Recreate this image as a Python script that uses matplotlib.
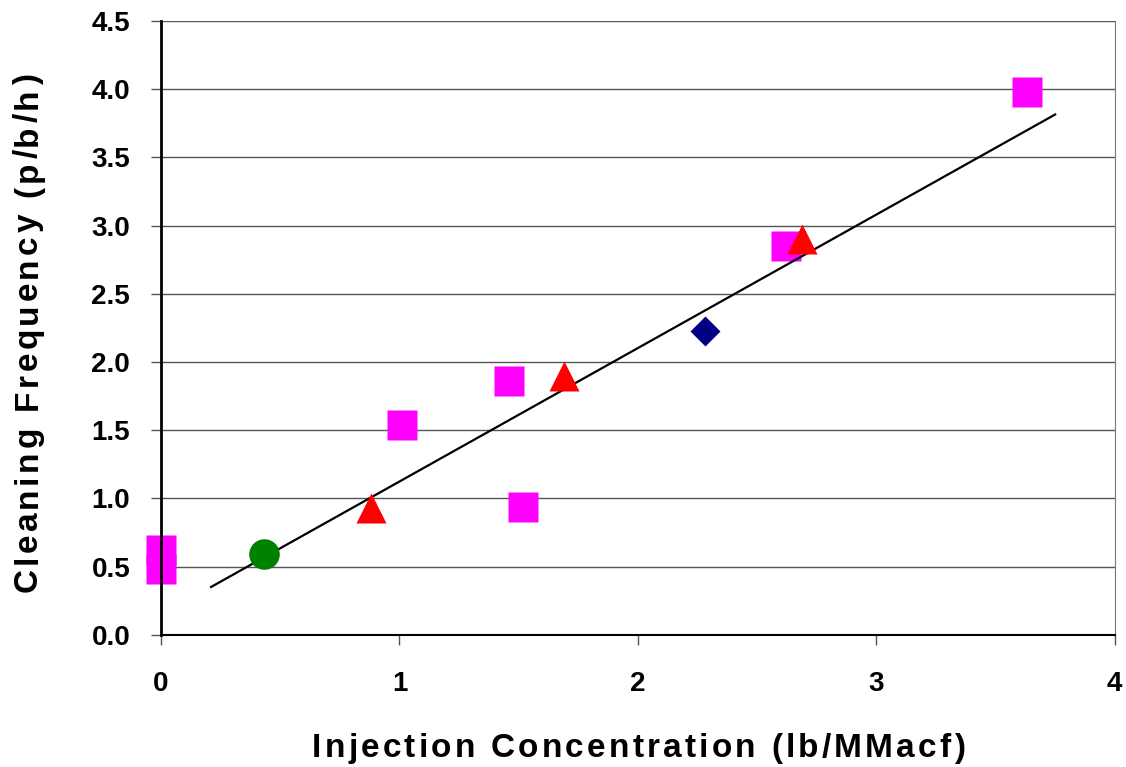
import matplotlib
matplotlib.use('Agg')
import matplotlib.pyplot as plt
import numpy as np

plt.rcParams['font.family'] = ['Liberation Sans', 'DejaVu Sans']

# data
sq_x = [0.0, 0.0, 1.01, 1.46, 1.52, 2.62, 3.63]
sq_y = [0.62, 0.48, 1.54, 1.86, 0.94, 2.85, 3.98]
tri_x = [0.88, 1.69, 2.69]
tri_y = [0.93, 1.90, 2.90]
dia_x = [2.28]
dia_y = [2.23]
circ_x = [0.43]
circ_y = [0.59]
fit_x = [0.21, 3.75]
fit_y = [0.35, 3.815]

xticks = [0, 1, 2, 3, 4]
yticks = np.arange(0, 4.51, 0.5)
xlabel = 'Injection Concentration (lb/MMacf)'
ylabel = 'Cleaning Frequency (p/b/h)'

W, H = 1126, 767
fig = plt.figure(figsize=(W / 100, H / 100), dpi=100)
ax = fig.add_axes([0.143, 0.1725, 0.847, 0.800])


def spaced_text(s, start, base, size, total, vertical=False):
    # letter-spaced label, laid out one char at a time (pixel coords)
    r = fig.canvas.get_renderer()
    probe = fig.text(0, 0, '', fontsize=size, fontweight='bold')

    def w(txt):
        probe.set_text(txt + 'x')
        return probe.get_window_extent(r).width

    wx = w('')
    offs = [w(s[:i]) - wx for i in range(len(s))]
    natural = w(s) - wx
    probe.remove()
    gap = (total - natural) / (len(s) - 1)
    for i, ch in enumerate(s):
        if ch == ' ':
            continue
        d = offs[i] + i * gap
        if vertical:
            fig.text(base / W, (start + d) / H, ch, rotation=90, rotation_mode='anchor',
                     ha='left', va='baseline', fontsize=size, fontweight='bold')
        else:
            fig.text((start + d) / W, base / H, ch, ha='left', va='baseline',
                     fontsize=size, fontweight='bold')


for y in yticks:
    ax.axhline(y, color='#555555', lw=1.0, zorder=1)

ax.plot(fit_x, fit_y, color='black', lw=1.6, zorder=3)
ax.plot(sq_x, sq_y, 's', color='#ff00ff', ms=22, mec='none', zorder=2, clip_on=False)
ax.plot(tri_x, tri_y, '^', color='#ff0000', ms=22, mec='none', zorder=4)
ax.plot(dia_x, dia_y, 'D', color='#000080', ms=15.5, mec='none', zorder=4)
ax.plot(circ_x, circ_y, 'o', color='#008000', ms=22, mec='none', zorder=4)

ax.set_xlim(0, 4)
ax.set_ylim(0, 4.5)
ax.set_xticks(xticks)
ax.set_yticks(yticks)
ax.set_xticklabels([str(t) for t in xticks], fontsize=20, fontweight='bold')
ax.set_yticklabels(['%.1f' % t for t in yticks], fontsize=20, fontweight='bold')
ax.tick_params(axis='x', direction='out', length=7.2, width=1, pad=19, color='#555555')
ax.tick_params(axis='y', direction='out', length=7.2, width=1, pad=15, color='#555555')

ax.spines['top'].set_visible(False)
ax.spines['right'].set_color('#777777')
ax.spines['left'].set_linewidth(2)
ax.spines['bottom'].set_linewidth(1.5)

spaced_text(xlabel, 312, H - 757, 24, 653)
spaced_text(ylabel, H - 592, 37, 24, 518, vertical=True)

fig.savefig('out.png', dpi=100)
